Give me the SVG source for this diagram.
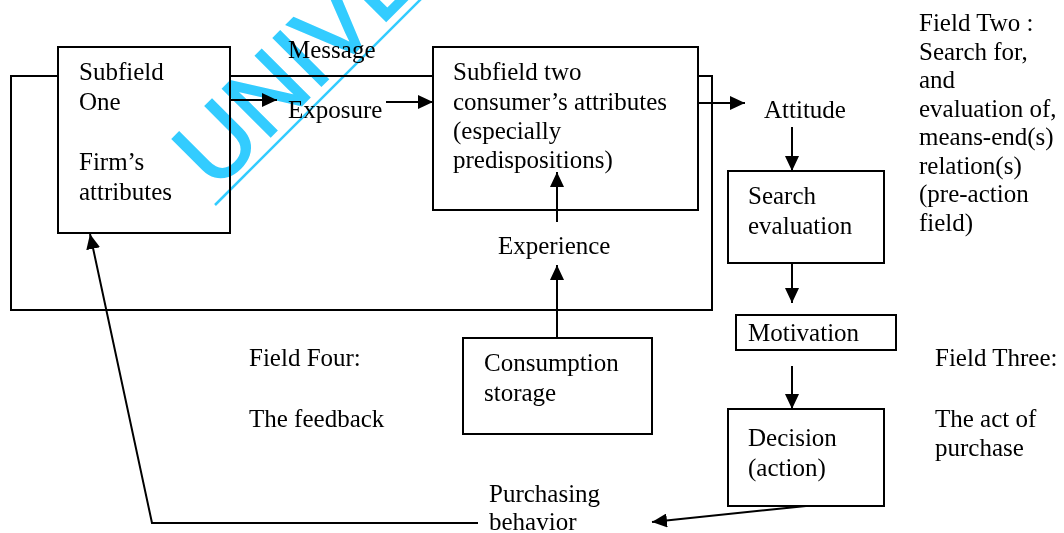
<svg xmlns="http://www.w3.org/2000/svg" width="1064" height="533" viewBox="0 0 1064 533">
  <defs>
    <marker id="arrow" markerUnits="userSpaceOnUse" markerWidth="16" markerHeight="14" refX="15" refY="7" orient="auto">
      <path d="M0,0 L15,7 L0,14 z" fill="#000"/>
    </marker>
    <style>
      .box { fill: #fff; stroke: #000; stroke-width: 2; }
      .loop { fill: none; stroke: #000; stroke-width: 2; }
      .edge { fill: none; stroke: #000; stroke-width: 2; marker-end: url(#arrow); }
      text { font-family: "Liberation Serif", "Times New Roman", serif; font-size: 25px; fill: #000; }
      .wm { font-family: "Liberation Sans", Arial, sans-serif; font-size: 98px; fill: #33ccff; stroke: #33ccff; stroke-width: 2; }
    </style>
  </defs>

  <rect x="0" y="0" width="1064" height="533" fill="#fff"/>

  <!-- outer feedback loop -->
  <rect class="loop" x="11" y="76" width="701" height="234"/>

  <!-- nodes -->
  <g id="subfield-one">
    <rect class="box" x="58" y="47" width="172" height="186"/>
    <text x="79" y="80">Subfield</text>
    <text x="79" y="110">One</text>
    <text x="79" y="170">Firm’s</text>
    <text x="79" y="200">attributes</text>
  </g>

  <g id="subfield-two">
    <rect class="box" x="433" y="47" width="265" height="163"/>
    <text x="453" y="80">Subfield two</text>
    <text x="453" y="110">consumer’s attributes</text>
    <text x="453" y="139">(especially</text>
    <text x="453" y="168">predispositions)</text>
  </g>

  <g id="search-evaluation">
    <rect class="box" x="728" y="171" width="156" height="92"/>
    <text x="748" y="204">Search</text>
    <text x="748" y="234">evaluation</text>
  </g>

  <g id="motivation">
    <rect class="box" x="736" y="315" width="160" height="35"/>
    <text x="748" y="341">Motivation</text>
  </g>

  <g id="decision">
    <rect class="box" x="728" y="409" width="156" height="97"/>
    <text x="748" y="446">Decision</text>
    <text x="748" y="476">(action)</text>
  </g>

  <g id="consumption-storage">
    <rect class="box" x="463" y="338" width="189" height="96"/>
    <text x="484" y="371">Consumption</text>
    <text x="484" y="401">storage</text>
  </g>

  <!-- free labels -->
  <g id="labels">
    <text x="288" y="58">Message</text>
    <text x="288" y="118">Exposure</text>
    <text x="764" y="118">Attitude</text>
    <text x="498" y="254">Experience</text>
    <text x="489" y="502">Purchasing</text>
    <text x="489" y="530">behavior</text>
  </g>

  <g id="field-two">
    <text x="919" y="31">Field Two :</text>
    <text x="919" y="60">Search for,</text>
    <text x="919" y="88">and</text>
    <text x="919" y="117">evaluation of,</text>
    <text x="919" y="145">means-end(s)</text>
    <text x="919" y="174">relation(s)</text>
    <text x="919" y="202">(pre-action</text>
    <text x="919" y="231">field)</text>
  </g>

  <g id="field-three">
    <text x="935" y="366">Field Three:</text>
    <text x="935" y="427">The act of</text>
    <text x="935" y="456">purchase</text>
  </g>

  <g id="field-four">
    <text x="249" y="366">Field Four:</text>
    <text x="249" y="427">The feedback</text>
  </g>

  <!-- connectors -->
  <g id="connectors">
    <line class="edge" x1="230" y1="100" x2="277" y2="100"/>
    <line class="edge" x1="386" y1="102" x2="433" y2="102"/>
    <line class="edge" x1="698" y1="103" x2="745" y2="103"/>
    <line class="edge" x1="792" y1="127" x2="792" y2="171"/>
    <line class="edge" x1="792" y1="263" x2="792" y2="303"/>
    <line class="edge" x1="792" y1="366" x2="792" y2="409"/>
    <line class="edge" x1="557" y1="222" x2="557" y2="172"/>
    <line class="edge" x1="557" y1="338" x2="557" y2="265"/>
    <line class="edge" x1="806" y1="506" x2="652" y2="522"/>
    <polyline class="edge" points="478,523 152,523 90,234"/>
  </g>

  <!-- watermark -->
  <g id="watermark" style="mix-blend-mode:multiply">
    <text class="wm" x="0" y="0" transform="translate(215,192) rotate(-45)">UNIVE</text>
    <line x1="215" y1="205" x2="422" y2="-2" stroke="#33ccff" stroke-width="2.5"/>
  </g>
</svg>
